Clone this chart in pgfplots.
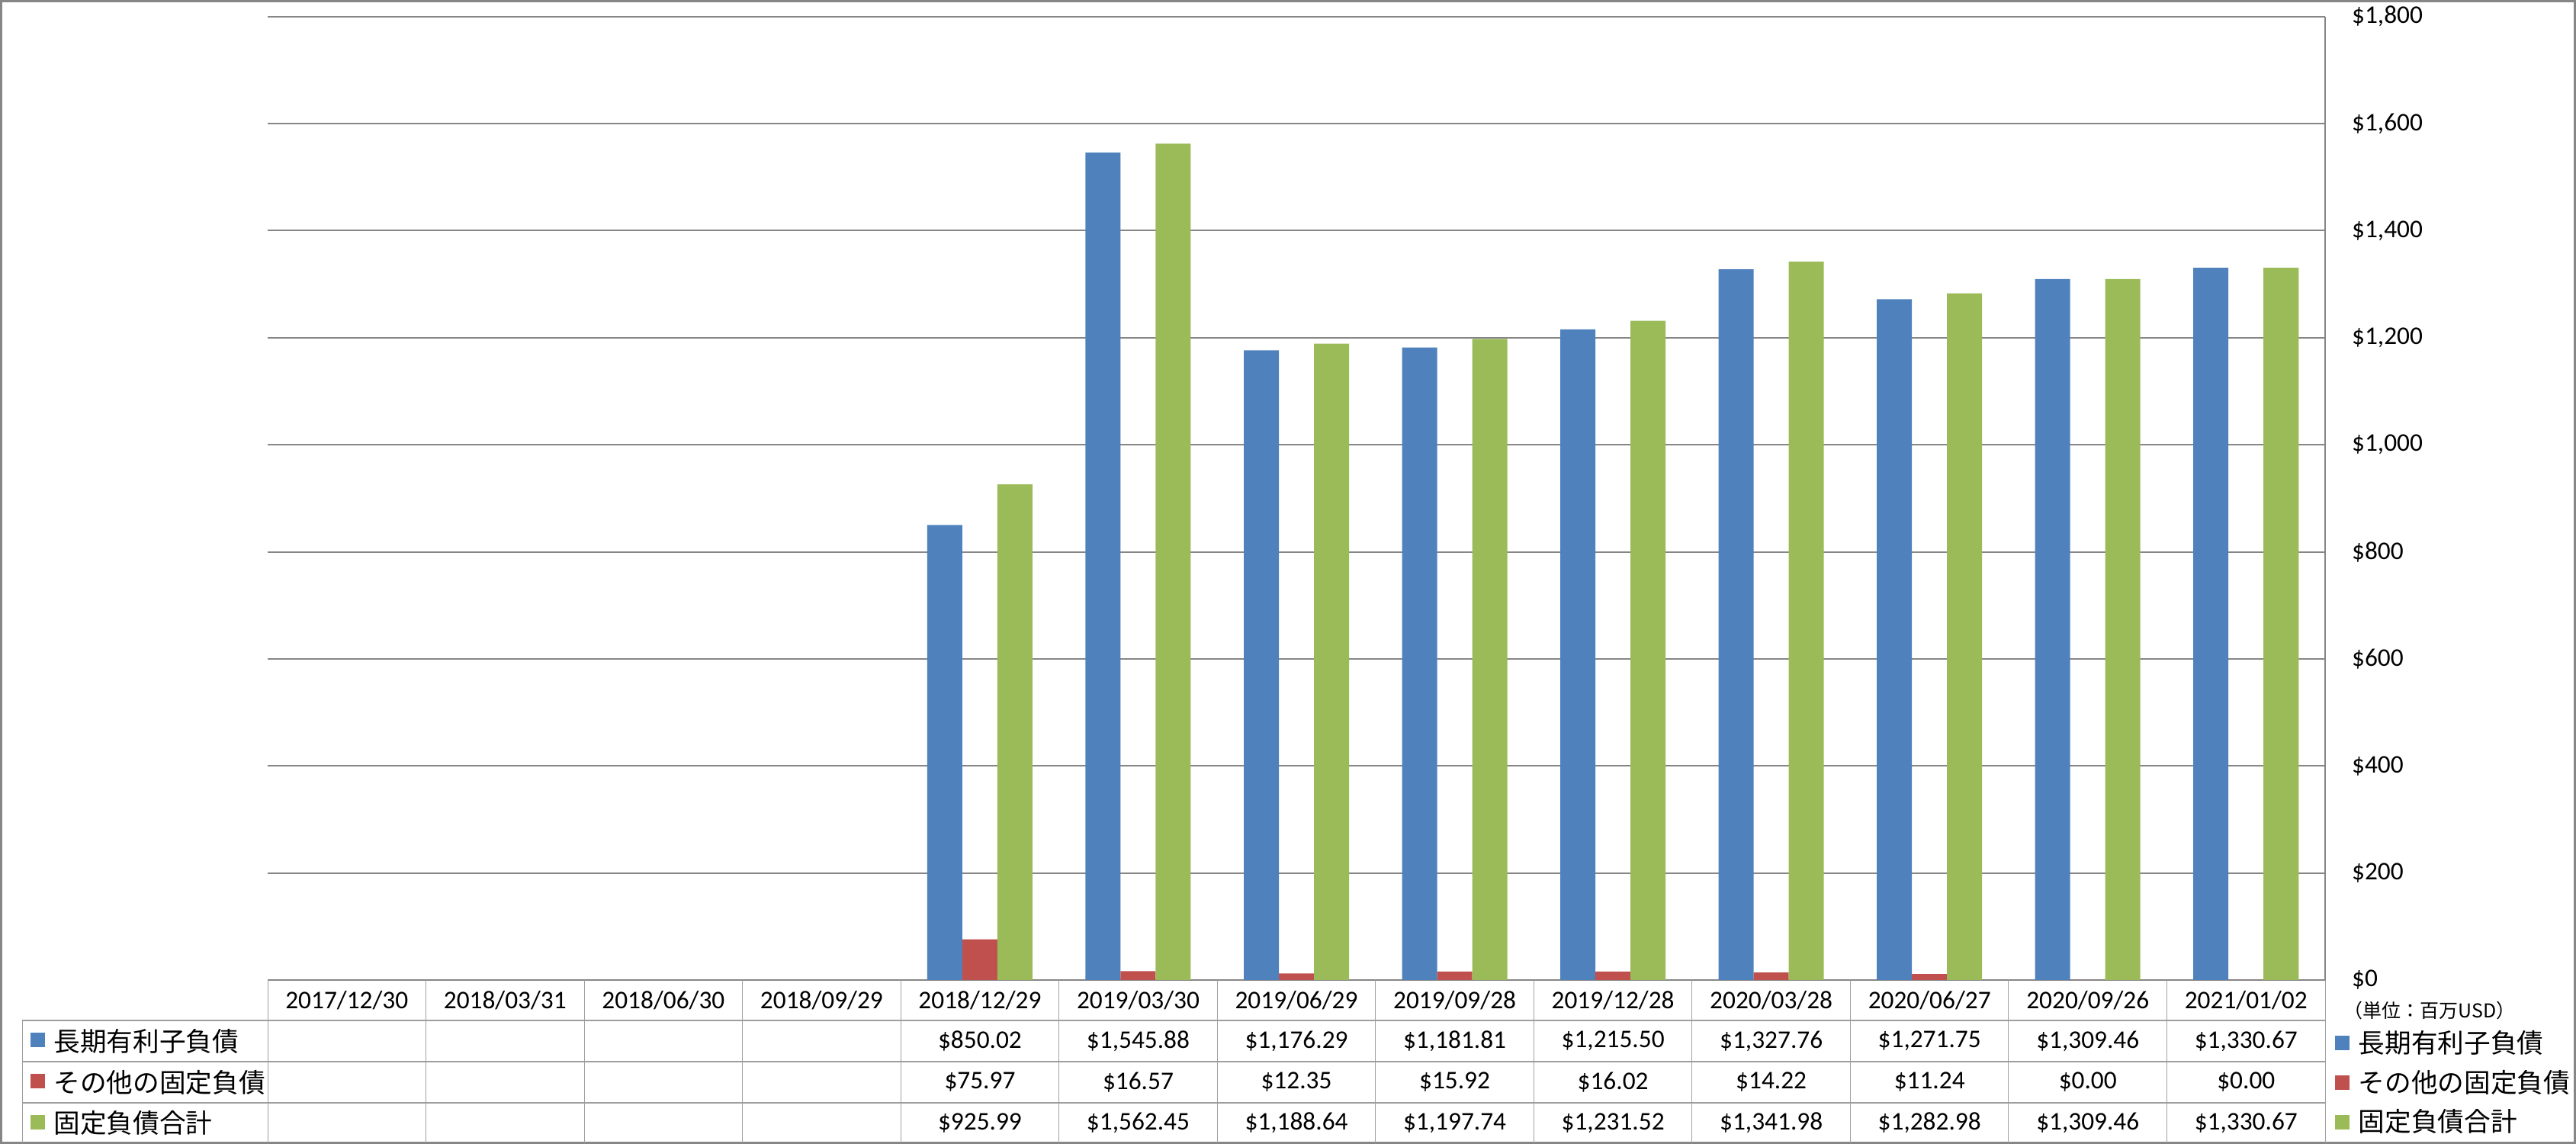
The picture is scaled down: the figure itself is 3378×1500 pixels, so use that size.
\documentclass[border=0pt]{standalone}
\usepackage{pgfplots}
\pgfplotsset{compat=1.18}
\usepackage{fontspec}
\setmainfont{Carlito}
\newfontfamily\jp{Noto Sans CJK JP}
\newcommand\jpl{\jp\fontsize{10.4}{12}\selectfont}
\definecolor{cblue}{HTML}{4F81BD}
\definecolor{cred}{HTML}{C0504D}
\definecolor{cgreen}{HTML}{9BBB59}
\definecolor{gridc}{HTML}{868686}
\definecolor{tabc}{HTML}{A0A0A0}
\begin{document}
\begin{tikzpicture}[x=0.3pt,y=0.3pt,font=\fontsize{10}{12}\selectfont]
\useasboundingbox (0,0) rectangle (3378,1500);
\draw[gridc,line width=0.9pt] (1.5,1.5) rectangle (3376.5,1498.5);
\begin{axis}[at={(105.3pt,64.5pt)}, anchor=south west, scale only axis,
  width=809.4pt, height=379pt,
  xmin=-0.5, xmax=12.5, ymin=0, ymax=1800,
  xtick=\empty,
  ytick={0,200,...,1800},
  yticklabels={\$0,\$200,\$400,\$600,\$800,{\$1,000},{\$1,200},{\$1,400},{\$1,600},{\$1,800}},
  axis x line*=bottom, axis y line*=right,
  axis line style={draw=gridc,line width=0.6pt},
  ymajorgrids, grid style={draw=gridc,line width=0.6pt},
  major tick length=0pt,
  yticklabel style={anchor=west,xshift=7pt,font=\fontsize{10}{12}\selectfont},
  clip=false]
\addplot[ybar,fill=cblue,draw=none,bar width=13.8pt,bar shift=-13.8pt] coordinates {
 (4,850.02) (5,1545.88) (6,1176.29) (7,1181.81) (8,1215.50) (9,1327.76) (10,1271.75) (11,1309.46) (12,1330.67)};
\addplot[ybar,fill=cred,draw=none,bar width=13.8pt,bar shift=0pt] coordinates {
 (4,75.97) (5,16.57) (6,12.35) (7,15.92) (8,16.02) (9,14.22) (10,11.24) (11,0) (12,0)};
\addplot[ybar,fill=cgreen,draw=none,bar width=13.8pt,bar shift=13.8pt] coordinates {
 (4,925.99) (5,1562.45) (6,1188.64) (7,1197.74) (8,1231.52) (9,1341.98) (10,1282.98) (11,1309.46) (12,1330.67)};
\end{axis}
% data table
\foreach \k in {0,...,13} \draw[tabc,line width=0.3pt] ({351+\k*207.54},215) -- ({351+\k*207.54},1);
\draw[tabc,line width=0.3pt] (29,162) -- (29,1);
\foreach \yy in {162,108,54} \draw[gridc!80,line width=0.6pt] (29,\yy) -- (3049,\yy);
\foreach \lab [count=\i from 0] in {2017/12/30,2018/03/31,2018/06/30,2018/09/29,2018/12/29,2019/03/30,2019/06/29,2019/09/28,2019/12/28,2020/03/28,2020/06/27,2020/09/26,2021/01/02}
  \node at ({351+(\i+0.5)*207.54},188.5) {\lab};
\foreach \v [count=\i from 0] in {{},{},{},{},{\$850.02},{\$1,545.88},{\$1,176.29},{\$1,181.81},{\$1,215.50},{\$1,327.76},{\$1,271.75},{\$1,309.46},{\$1,330.67}}
  \node at ({351+(\i+0.5)*207.54},135) {\v};
\foreach \v [count=\i from 0] in {{},{},{},{},{\$75.97},{\$16.57},{\$12.35},{\$15.92},{\$16.02},{\$14.22},{\$11.24},{\$0.00},{\$0.00}}
  \node at ({351+(\i+0.5)*207.54},81) {\v};
\foreach \v [count=\i from 0] in {{},{},{},{},{\$925.99},{\$1,562.45},{\$1,188.64},{\$1,197.74},{\$1,231.52},{\$1,341.98},{\$1,282.98},{\$1,309.46},{\$1,330.67}}
  \node at ({351+(\i+0.5)*207.54},27.5) {\v};
% row labels
\fill[cblue] (40,127) rectangle (59,146);
\fill[cred] (40,73) rectangle (59,92);
\fill[cgreen] (40,19) rectangle (59,38);
\node[anchor=west,inner sep=0pt] at (70,135) {\jpl 長期有利子負債};
\node[anchor=west,inner sep=0pt] at (70,81) {\jpl その他の固定負債};
\node[anchor=west,inner sep=0pt] at (70,27.5) {\jpl 固定負債合計};
% right legend
\node[anchor=west,inner sep=0pt,font=\fontsize{7.5}{9}\selectfont] at (3073,175) {\jp （単位：百万USD）};
\fill[cblue] (3062,123) rectangle (3081,142);
\fill[cred] (3062,71) rectangle (3081,90);
\fill[cgreen] (3062,19) rectangle (3081,38);
\node[anchor=west,inner sep=0pt] at (3092,133) {\jpl 長期有利子負債};
\node[anchor=west,inner sep=0pt] at (3092,81) {\jpl その他の固定負債};
\node[anchor=west,inner sep=0pt] at (3092,29.5) {\jpl 固定負債合計};
\end{tikzpicture}
\end{document}
